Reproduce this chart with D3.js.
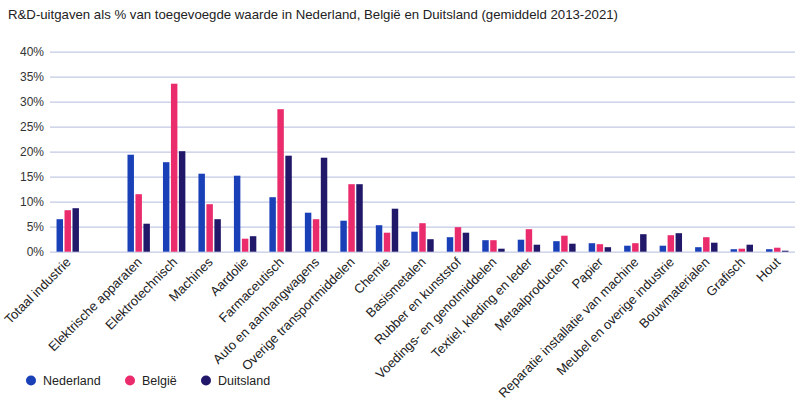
<!DOCTYPE html>
<html><head><meta charset="utf-8">
<script src="https://cdn.jsdelivr.net/npm/d3@7"></script>
<style>
body{margin:0;background:#fff;}
text{font-family:"Liberation Sans",Arial,Helvetica,sans-serif;}
</style></head>
<body><svg id="chart" width="800" height="400"></svg>
<script>
const categories = ["Totaal industrie", "", "Elektrische apparaten", "Elektrotechnisch", "Machines", "Aardolie",
  "Farmaceutisch", "Auto en aanhangwagens", "Overige transportmiddelen", "Chemie", "Basismetalen",
  "Rubber en kunststof", "Voedings- en genotmiddelen", "Textiel, kleding en leder", "Metaalproducten",
  "Papier", "Reparatie installatie van machine", "Meubel en overige industrie", "Bouwmaterialen", "Grafisch", "Hout"];
const seriesNames = ["Nederland", "België", "Duitsland"];
const nederland = [6.5, null, 19.4, 17.9, 15.6, 15.2, 10.9, 7.8, 6.2, 5.3, 4.0, 2.9, 2.3, 2.4, 2.1, 1.7, 1.2, 1.2, 0.9, 0.5, 0.5];
const belgie    = [8.3, null, 11.5, 33.6, 9.5, 2.6, 28.5, 6.5, 13.5, 3.8, 5.7, 4.9, 2.3, 4.5, 3.2, 1.5, 1.7, 3.3, 2.9, 0.6, 0.8];
const duitsland = [8.7, null, 5.6, 20.1, 6.5, 3.1, 19.2, 18.8, 13.5, 8.6, 2.5, 3.8, 0.6, 1.4, 1.6, 0.9, 3.5, 3.7, 1.8, 1.4, 0.2];
const yTicks = [0, 5, 10, 15, 20, 25, 30, 35, 40];
const colors = ["#1a40b8", "#ea2c6c", "#21186a"];
const title = "R&D-uitgaven als % van toegevoegde waarde in Nederland, België en Duitsland  (gemiddeld  2013-2021)";

const svg = d3.select("#chart");
const x0 = d3.scaleBand().domain(categories.map((c, i) => i)).range([50, 795]).padding(0);
const x1 = d3.scaleBand().domain(seriesNames).range([-11.2, 11.2]).paddingInner(0.19).paddingOuter(0);
const y = d3.scaleLinear().domain([0, 40]).range([251.7, 51.7]);

svg.append("text").attr("x", 8).attr("y", 19).attr("font-size", 12.6).attr("fill", "#222")
  .attr("textLength", 610).attr("lengthAdjust", "spacingAndGlyphs").text(title);

// grid + y axis
const yAxis = d3.axisLeft(y).tickValues(yTicks).tickSize(-745).tickPadding(6).tickFormat(d => d + "%");
const gy = svg.append("g").attr("transform", "translate(50,0)").call(yAxis);
gy.select(".domain").remove();
gy.selectAll(".tick line").attr("stroke", "#c3c9e3").attr("stroke-width", 1.2);
gy.selectAll(".tick text").attr("font-size", 12).attr("fill", "#333").attr("font-family", "Liberation Sans, Arial, sans-serif");

// bars
const series = [nederland, belgie, duitsland];
series.forEach((vals, si) => {
  svg.append("g").selectAll("rect").data(vals.map((v, i) => ({v, i})).filter(d => d.v != null))
    .join("rect")
    .attr("x", d => x0(d.i) + x0.bandwidth() / 2 + x1(seriesNames[si]))
    .attr("width", x1.bandwidth())
    .attr("y", d => y(d.v))
    .attr("height", d => y(0) - y(d.v))
    .attr("fill", colors[si]);
});

// x labels
const xl = svg.append("g");
categories.forEach((c, i) => {
  if (!c) return;
  const cx = x0(i) + x0.bandwidth() / 2 + 4;
  xl.append("text")
    .attr("transform", `translate(${cx},263) rotate(-45)`)
    .attr("text-anchor", "end").attr("font-size", 13).attr("fill", "#222").text(c);
});

// legend
const lg = svg.append("g");
const lx = [31, 130, 206];
seriesNames.forEach((s, i) => {
  lg.append("circle").attr("cx", lx[i]).attr("cy", 380.5).attr("r", 5).attr("fill", colors[i]);
  lg.append("text").attr("x", lx[i] + 12).attr("y", 385).attr("font-size", 12.5).attr("fill", "#222").text(s);
});
</script></body></html>
